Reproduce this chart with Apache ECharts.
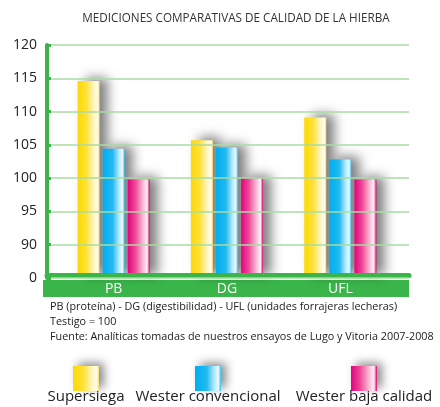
<!DOCTYPE html>
<html><head><meta charset="utf-8">
<script src="https://cdn.jsdelivr.net/npm/echarts@6/dist/echarts.min.js"></script>
<style>html,body{margin:0;padding:0;background:#fff}#c{width:440px;height:407px}</style>
</head><body><div id="c"></div>
<script>
const categories = ['PB', 'DG', 'UFL'];
const seriesNames = ['Supersiega', 'Wester convencional', 'Wester baja calidad'];
const supersiega = [114.6, 105.7, 109.1];
const westerConvencional = [104.4, 104.6, 102.8];
const westerBaja = [99.8, 100.0, 99.8];
const yTicks = [85, 90, 95, 100, 105, 110, 115, 120];
const yTickLabels = ['0', '90', '95', '100', '105', '110', '115', '120'];
const notes = [
  'PB (proteína) - DG (digestibilidad) - UFL (unidades forrajeras lecheras)',
  'Testigo = 100',
  'Fuente: Analíticas tomadas de nuestros ensayos de Lugo y Vitoria 2007-2008'
];
const titleText = 'MEDICIONES COMPARATIVAS DE CALIDAD DE LA HIERBA';

const GREEN = '#39b54a';
const FONT = 'Open Sans';
function grad(stops){
  return new echarts.graphic.LinearGradient(0,0,1,0, stops.map(s=>({offset:s[0], color:s[1]})));
}
const fills = [
  grad([[0,'#ffd800'],[0.4,'#ffe23a'],[0.75,'#fff6c8'],[0.92,'#fffdf0'],[1,'#f3dc5a']]),
  grad([[0,'#00aeef'],[0.45,'#22b9f0'],[0.75,'#b8eafb'],[0.9,'#e8f9ff'],[1,'#30bdf0']]),
  grad([[0,'#e5007d'],[0.35,'#ee4a98'],[0.7,'#f8bcd6'],[0.88,'#fff0f6'],[1,'#d9006f']])
];
const datas = [supersiega, westerConvencional, westerBaja];

const chart = echarts.init(document.getElementById('c'), null, {renderer:'canvas'});
const series = datas.map((d,i)=>({
  name: seriesNames[i], type:'bar', xAxisIndex:1, yAxisIndex:1,
  data: d, barWidth:22, barGap:'14%',
  itemStyle:{color:fills[i], shadowBlur:12, shadowColor:'rgba(0,0,0,0.5)', shadowOffsetX:8, shadowOffsetY:-3},
  z:2
}));

const legendX = [86, 208, 364];
const graphics = [
  {type:'rect', shape:{x:43, y:280, width:366, height:17}, style:{fill:GREEN}, z:1}
];
notes.forEach((t,i)=>graphics.push({type:'text', x:50, y:301+i*15.3, style:{text:t, fill:'#222', font:'10.8px "'+FONT+'"'}}));
seriesNames.forEach((n,i)=>{
  graphics.push({type:'rect', shape:{x:legendX[i]-13, y:366, width:26, height:25},
    style:{fill:fills[i], shadowBlur:10, shadowColor:'rgba(0,0,0,0.45)', shadowOffsetX:5, shadowOffsetY:-3}});
  graphics.push({type:'text', x:legendX[i], y:389, style:{text:n, fill:'#222', font:'15px "'+FONT+'"', textAlign:'center'}});
});

chart.setOption({
  animation:false,
  title:{text:titleText, left:231, textAlign:'center', top:8, textStyle:{fontFamily:FONT, fontSize:11.7, fontWeight:'normal', color:'#333'}},
  grid:[
    {left:47, right:31, top:45, bottom:129},
    {left:57, right:43, top:45, bottom:129}
  ],
  xAxis:[
    {gridIndex:0, type:'category', data:categories, offset:-3, z:5,
     axisLine:{lineStyle:{color:GREEN, width:5}}, axisTick:{show:false}, axisLabel:{show:false}},
    {gridIndex:1, type:'category', data:categories, z:10,
     axisLine:{show:false}, axisTick:{show:false},
     axisLabel:{color:'#fff', fontSize:14, fontFamily:FONT, margin:4}}
  ],
  yAxis:[
    {gridIndex:0, type:'value', min:85, max:120, interval:5, z:6,
     axisLine:{show:true, lineStyle:{color:GREEN, width:4, cap:'round'}},
     axisTick:{show:true, inside:true, length:4, lineStyle:{color:GREEN, width:3}},
     splitLine:{lineStyle:{color:'#a9dba3', width:1.5}},
     axisLabel:{color:'#222', fontSize:14, fontFamily:FONT, margin:10,
       formatter:v=>yTickLabels[yTicks.indexOf(v)]}},
    {gridIndex:1, type:'value', min:85, max:120, interval:5, show:false}
  ],
  graphic:graphics,
  series:series
});
</script></body></html>
